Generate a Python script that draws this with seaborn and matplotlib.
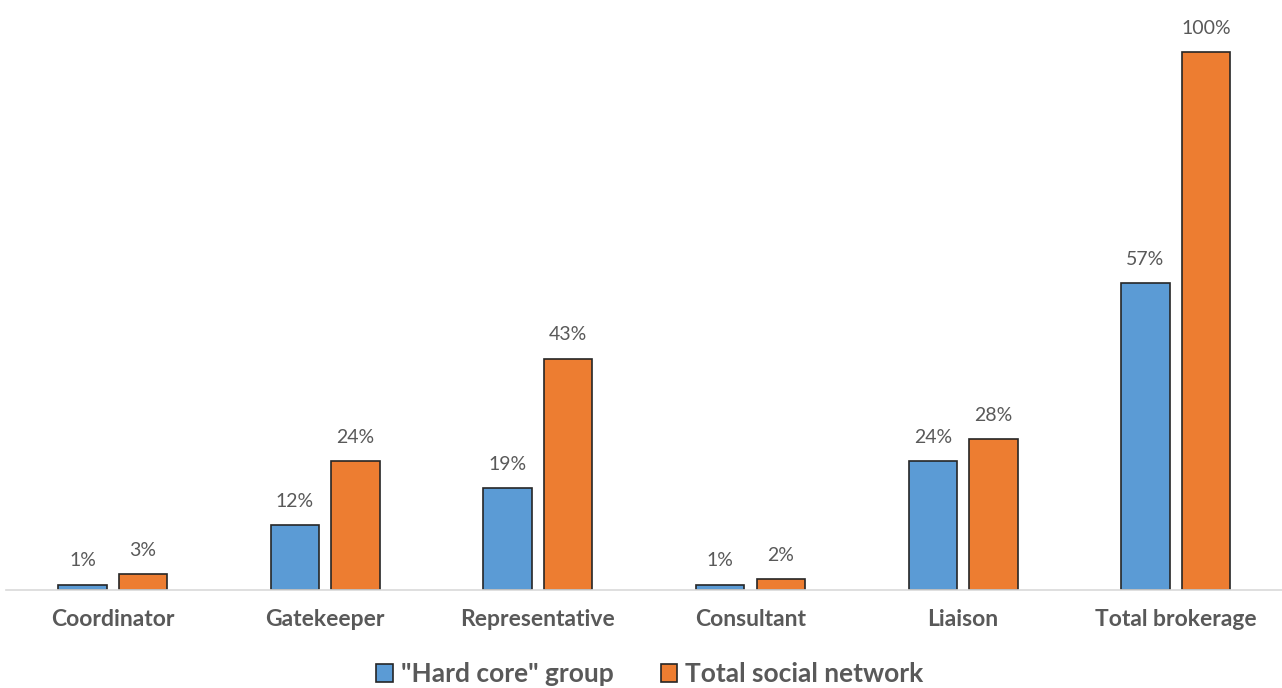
import pandas as pd
import seaborn as sns
import matplotlib.pyplot as plt

categories = ["Coordinator", "Gatekeeper", "Representative", "Consultant", "Liaison", "Total brokerage"]
hard_core = [1, 12, 19, 1, 24, 57]
total_network = [3, 24, 43, 2, 28, 100]
series_names = ['"Hard core" group', "Total social network"]

df = pd.DataFrame({
    "category": categories * 2,
    "value": hard_core + total_network,
    "series": [series_names[0]] * len(categories) + [series_names[1]] * len(categories),
})

sns.set_style("white")
plt.rcParams["font.family"] = ["Lato", "DejaVu Sans"]

fig = plt.figure(figsize=(12.82, 6.88), dpi=100)
ax = fig.add_axes([0.005, 0.1424, 0.995, 0.8523])

palette = {series_names[0]: "#5B9BD5", series_names[1]: "#ED7D31"}
sns.barplot(data=df, x="category", y="value", hue="series", palette=palette,
            width=0.57, gap=0.2, edgecolor="#262626", linewidth=1.2,
            saturation=1, ax=ax)

ax.set_ylim(0, 109)
ax.set_xlim(-0.5, len(categories) - 0.5)
ax.set_xlabel("")
ax.set_ylabel("")
ax.set_yticks([])
ax.tick_params(axis="x", length=0, pad=14, labelsize=16.5, labelcolor="#595959")
for lbl in ax.get_xticklabels():
    lbl.set_fontweight("bold")

for side in ["top", "right", "left"]:
    ax.spines[side].set_visible(False)
ax.spines["bottom"].set_color("#D9D9D9")
ax.spines["bottom"].set_linewidth(1.2)

for cont in ax.containers:
    ax.bar_label(cont, labels=[f"{v:.0f}%" for v in cont.datavalues],
                 padding=11, fontsize=14, color="#595959")

# legend under the axis, centred on the figure
handles, labels = ax.get_legend_handles_labels()
ax.get_legend().remove()
leg = fig.legend(handles, labels, loc="center", bbox_to_anchor=(0.507, 0.02),
                 ncol=2, frameon=False, handlelength=0.62, handleheight=0.62,
                 handletextpad=0.3, columnspacing=1.8,
                 prop={"weight": "bold", "size": 19})
for t in leg.get_texts():
    t.set_color("#595959")

fig.savefig("out.png", dpi=100)
